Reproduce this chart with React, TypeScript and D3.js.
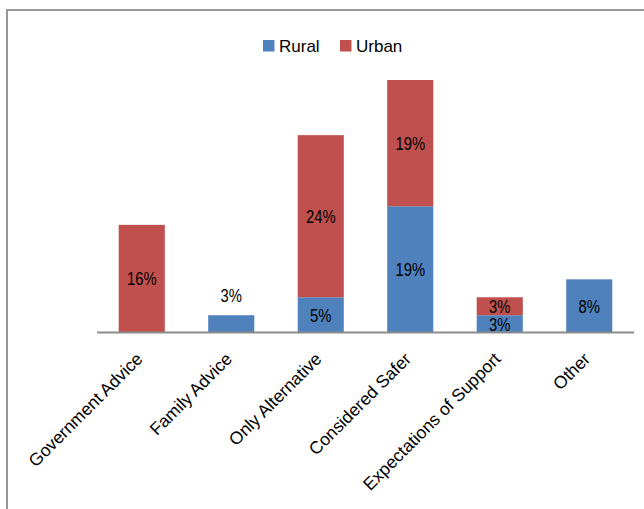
import React from "react";
import * as d3 from "d3";

const categories = [
  "Government Advice",
  "Family Advice",
  "Only Alternative",
  "Considered Safer",
  "Expectations of Support",
  "Other",
];
const seriesNames = ["Rural", "Urban"];
const rural = [0, 2.6, 5.3, 19.0, 2.6, 8.0];
const urban = [16.2, 0, 24.4, 19.0, 2.7, 0];
const colors = ["#4F81BD", "#C0504D"];

const W = 644;
const H = 509;
const FONT = "'Liberation Sans', Arial, sans-serif";

export default function App() {
  const baseline = 332.5;
  const x = d3.scaleBand<string>().domain(categories).range([97, 634]).padding(0);
  const y = d3.scaleLinear().domain([0, 40]).range([baseline, baseline - 40 * 6.645]);
  const barW = x.bandwidth() * 0.515;

  const rows = categories.map((c, i) => ({ cat: c, Rural: rural[i], Urban: urban[i] }));
  const stack = d3.stack<any>().keys(seriesNames)(rows);
  const fmt = (v: number) => d3.format(".0f")(v) + "%";

  const labels: { x: number; y: number; t: string }[] = [];
  categories.forEach((c, i) => {
    const segs = stack.map((s) => s[i]).filter((d) => d[1] - d[0] > 0);
    segs.forEach((d) => {
      const h = y(d[0]) - y(d[1]);
      const cx = (x(c) as number) + x.bandwidth() / 2;
      const single = segs.length === 1;
      const ly = single && h < 25 ? y(d[1]) - 20 : (y(d[0]) + y(d[1])) / 2;
      labels.push({ x: cx, y: ly, t: fmt(d[1] - d[0]) });
    });
  });

  return (
    <svg width={W} height={H} style={{ position: "absolute", left: 0, top: 0 }} fontFamily={FONT}>
      <rect x={0} y={0} width={W} height={H} fill="#fff" />
      <rect x={7} y={10} width={W + 50} height={H + 50} fill="none" stroke="#8c8c8c" strokeWidth={1.8} />
      <g>
        {stack.map((s, si) =>
          s.map((d, i) =>
            d[1] - d[0] > 0 ? (
              <rect
                key={si + "-" + i}
                x={(x(categories[i]) as number) + (x.bandwidth() - barW) / 2}
                y={y(d[1])}
                width={barW}
                height={y(d[0]) - y(d[1])}
                fill={colors[si]}
              />
            ) : null
          )
        )}
      </g>
      <line x1={97} x2={634} y1={baseline} y2={baseline} stroke="#8c8c8c" strokeWidth={2} />
      {labels.map((l, i) => (
        <text
          key={i}
          transform={`translate(${l.x},${l.y}) scale(0.8,1)`}
          dy="0.36em"
          textAnchor="middle"
          fontSize={18.5}
          fill="#000"
        >
          {l.t}
        </text>
      ))}
      {categories.map((c) => {
        const cx = (x(c) as number) + x.bandwidth() / 2 + 2;
        const cy = 360;
        return (
          <text
            key={c}
            x={cx}
            y={cy}
            textAnchor="end"
            fontSize={17.5}
            fill="#000"
            transform={`rotate(-45, ${cx}, ${cy})`}
          >
            {c}
          </text>
        );
      })}
      <g>
        {seriesNames.map((n, i) => {
          const lx = [263, 340][i];
          return (
            <g key={n}>
              <rect x={lx} y={40} width={11.5} height={11.5} fill={colors[i]} />
              <text x={lx + 16} y={52.3} fontSize={17} fill="#000">
                {n}
              </text>
            </g>
          );
        })}
      </g>
    </svg>
  );
}
